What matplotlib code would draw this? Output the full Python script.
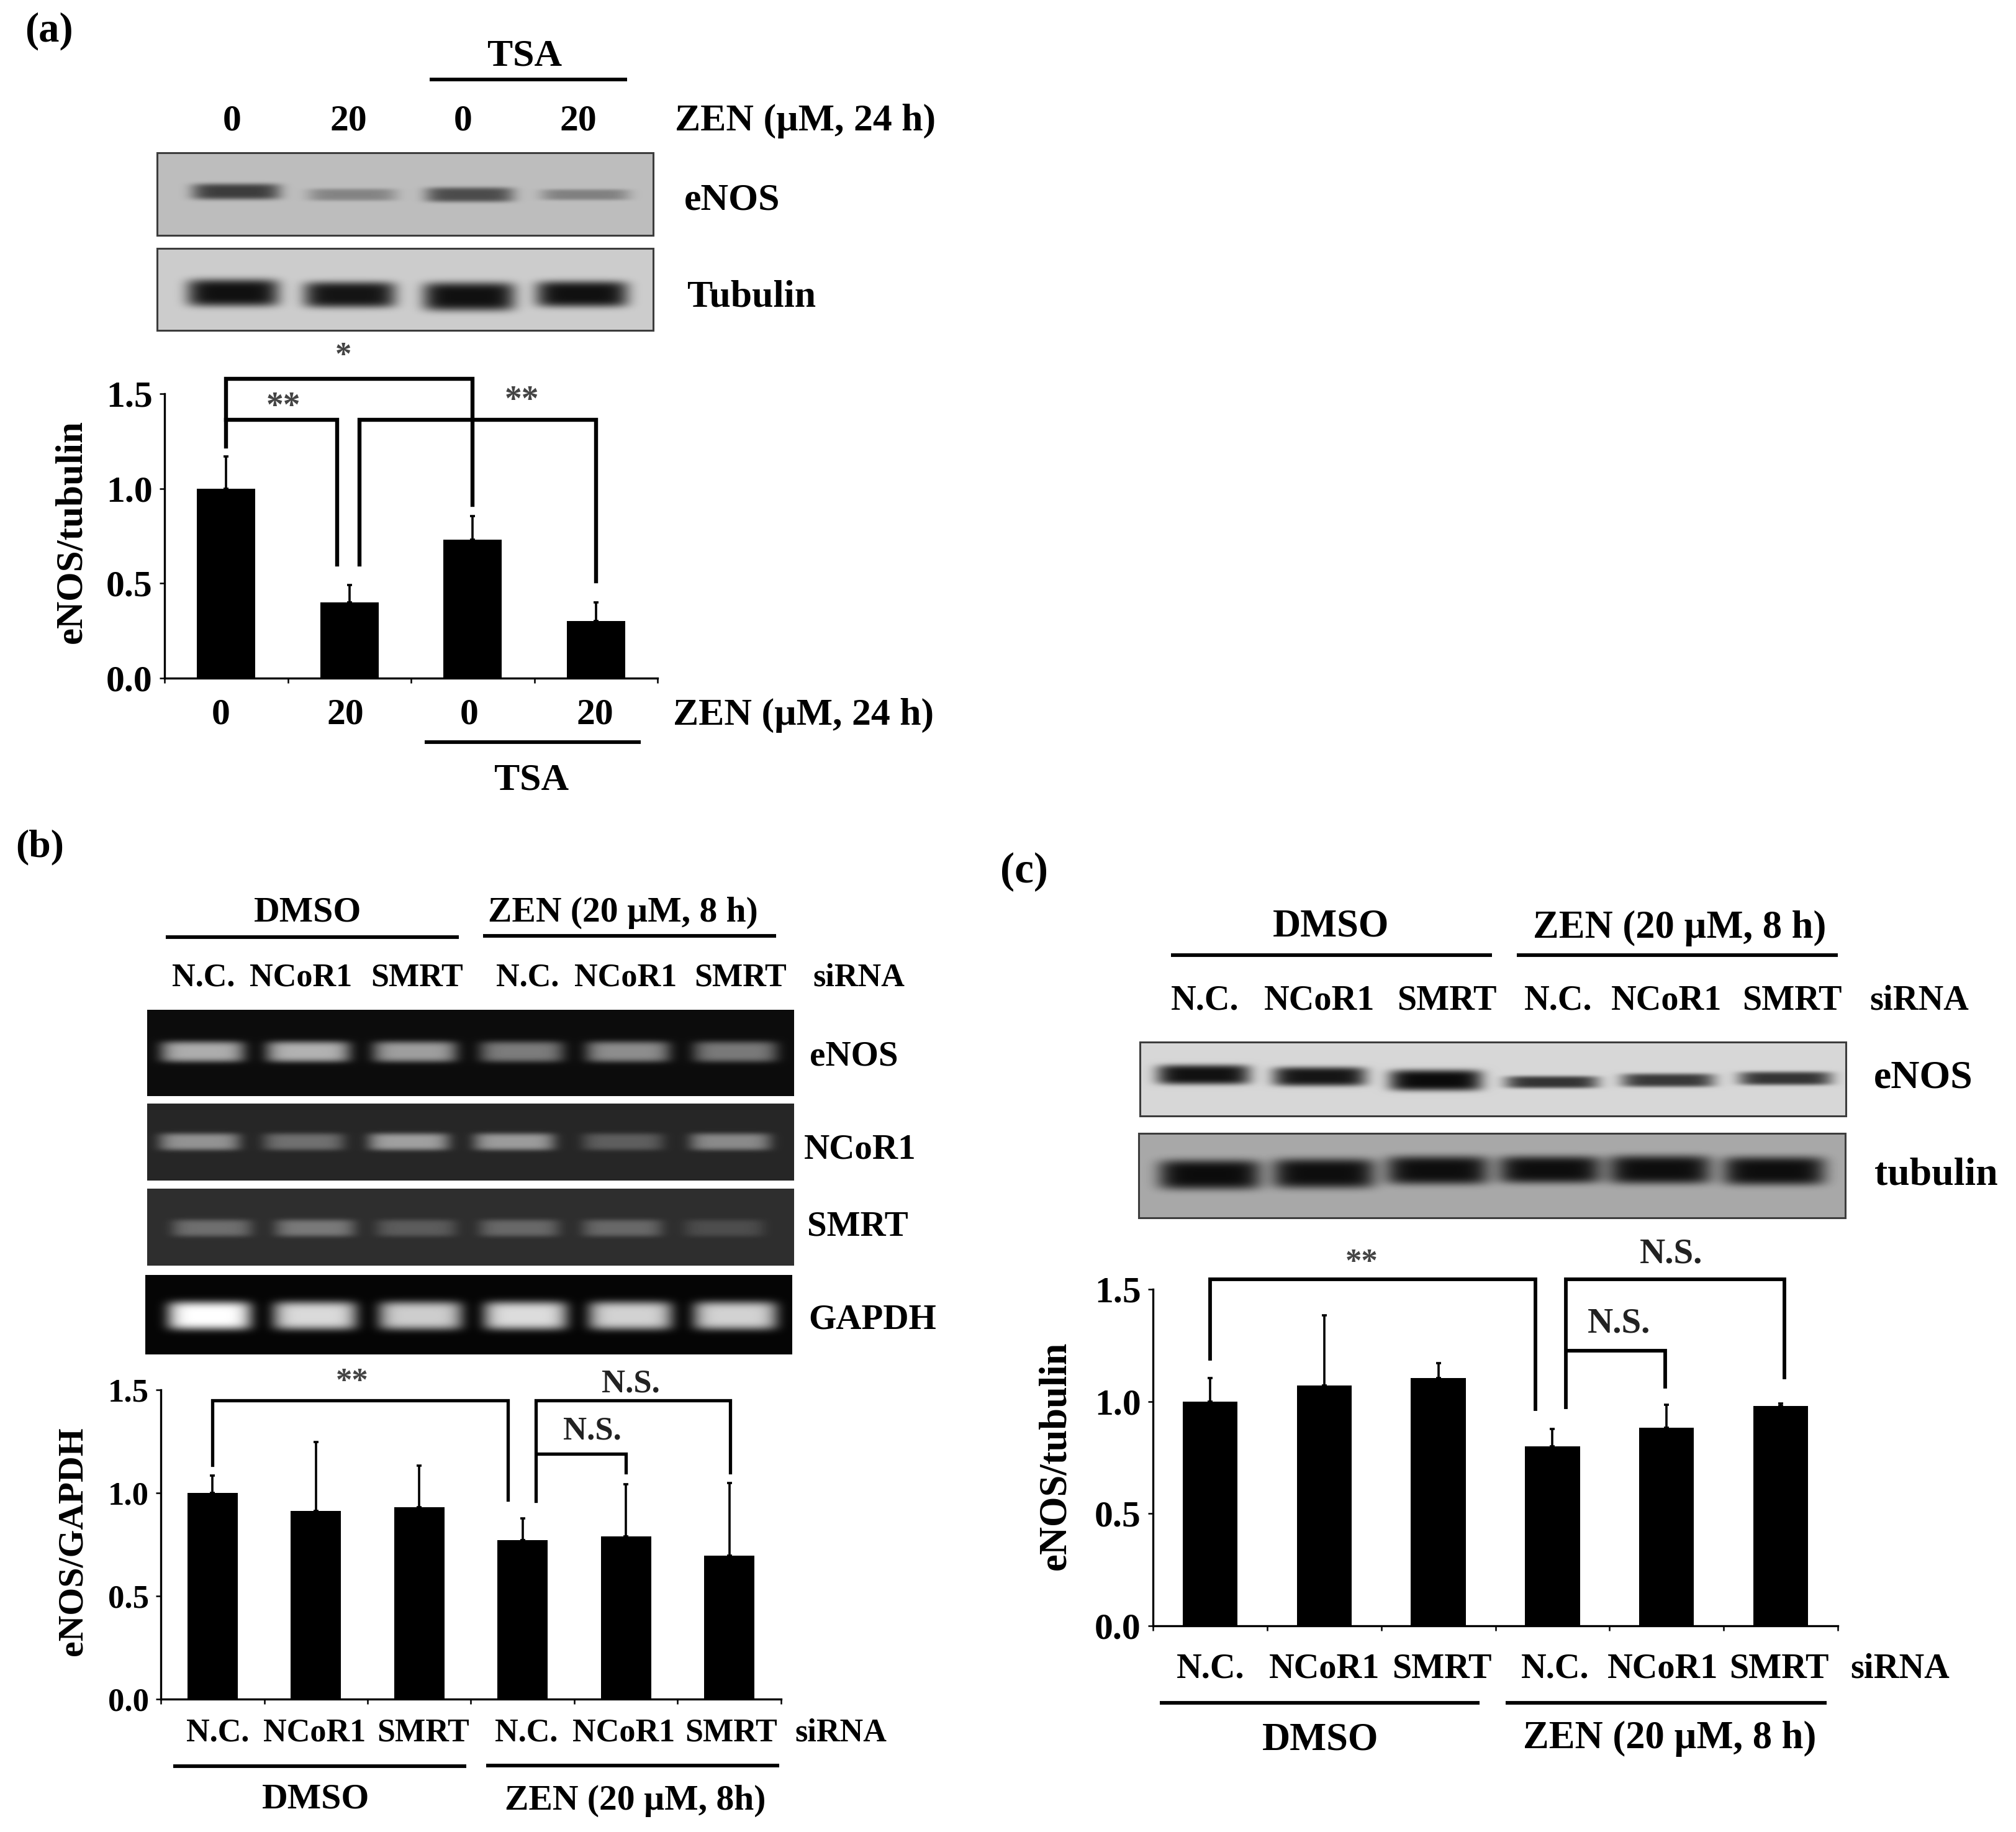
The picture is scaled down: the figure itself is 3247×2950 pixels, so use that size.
import matplotlib
matplotlib.use("Agg")
import matplotlib.pyplot as plt
import numpy as np
from matplotlib.patches import Rectangle

W, H = 3247, 2950
DPI = 100
FONT = "Liberation Serif"

# bar values
a_values = [1.0, 0.40, 0.73, 0.30]
a_err_tops = [1.17, 0.49, 0.855, 0.40]
b_values = [1.0, 0.913, 0.931, 0.77, 0.788, 0.696]
b_err_tops = [1.083, 1.246, 1.132, 0.876, 1.043, 1.048]
c_values = [1.0, 1.07, 1.103, 0.80, 0.884, 0.979]
c_err_tops = [1.103, 1.384, 1.172, 0.876, 0.984, 0.992]

y_ticks = [0.0, 0.5, 1.0, 1.5]
a_doses = ["0", "20", "0", "20"]
sirna = ["N.C.", "NCoR1", "SMRT", "N.C.", "NCoR1", "SMRT"]

# band strength per lane
a_enos = [0.68, 0.30, 0.60, 0.32]
a_tubulin = [0.92, 0.90, 0.92, 0.92]
b_enos = [0.66, 0.68, 0.60, 0.46, 0.53, 0.45]
b_ncor = [0.50, 0.34, 0.56, 0.54, 0.26, 0.46]
b_smrt = [0.31, 0.36, 0.22, 0.28, 0.28, 0.15]
b_gapdh = [1.0, 0.85, 0.80, 0.86, 0.82, 0.82]
c_enos = [0.92, 0.90, 0.95, 0.76, 0.74, 0.76]
c_tubulin = [0.93, 0.92, 0.92, 0.92, 0.92, 0.92]

fig = plt.figure(figsize=(W / DPI, H / DPI), dpi=DPI, facecolor="white")
overlay = fig.add_axes([0, 0, 1, 1], zorder=5)
overlay.set_axis_off()
overlay.patch.set_alpha(0)


def label(x, y, s, size=40, ha="center", color="black", rotation=0):
    overlay.text(x, y + 4, s, fontsize=size, ha=ha, va="center", family=FONT,
                 fontweight="bold", color=color, rotation=rotation)


def rule(x0, x1, y, lw=4.2):
    overlay.plot([x0, x1], [y, y], color="black", lw=lw, solid_capstyle="butt")


def gel(box, centers, ys, band_w, band_h, strengths, bg, dark_bands=False):
    # one blot or gel strip: soft bands on a flat ground
    x0, x1, y0, y1 = box
    xx, yy = np.meshgrid(np.arange(x0, x1), np.arange(y0, y1))
    img = np.full(xx.shape, bg, dtype=float)
    for cx, cy, h, s in zip(centers, ys, band_h, strengths):
        band = np.exp(-(((xx - cx) / (band_w / 2)) ** 6) - ((yy - cy) / (h / 2)) ** 4)
        img = img - band * s * bg if dark_bands else img + band * s * (1 - bg)
    overlay.imshow(img, cmap="gray", vmin=0, vmax=1, extent=(x0, x1, y1, y0),
                   aspect="auto", interpolation="bilinear", zorder=1)
    if dark_bands:
        overlay.add_patch(Rectangle((x0, y0), x1 - x0, y1 - y0, fill=False,
                                    ec="#3c3c3c", lw=2.2, zorder=2))


def bar_chart(box, values, err_tops, width, y_size=40, label_pad=8):
    left, right, top, bottom = box
    ax = fig.add_axes([left / W, 1 - bottom / H, (right - left) / W, (bottom - top) / H],
                      zorder=3)
    ax.patch.set_alpha(0)
    n = len(values)
    x = np.arange(n)
    ax.bar(x, values, width=width, color="black")
    lower = np.zeros(n)
    upper = np.array(err_tops) - np.array(values)
    ax.errorbar(x, values, yerr=[lower, upper], fmt="none", ecolor="black",
                elinewidth=2.6, capsize=3, capthick=2.6)
    ax.set_xlim(-0.5, n - 0.5)
    ax.set_ylim(0, 1.5)
    ax.set_xticks(np.arange(n + 1) - 0.5)
    ax.set_xticklabels([])
    ax.set_yticks(y_ticks)
    ax.set_yticklabels([f"{t:.1f}" for t in y_ticks], family=FONT,
                       fontweight="bold", fontsize=y_size)
    ax.tick_params(axis="both", direction="out", length=6, width=1.8)
    ax.tick_params(axis="y", pad=label_pad)
    for side in ["top", "right"]:
        ax.spines[side].set_visible(False)
    for side in ["left", "bottom"]:
        ax.spines[side].set_linewidth(2.4)
    return ax


def bracket(ax, x0, x1, y, y0_end, y1_end, lw=4.6):
    ax.plot([x0, x0, x1, x1], [y0_end, y, y, y1_end], color="black", lw=lw,
            clip_on=False, solid_joinstyle="miter", zorder=4)


# ---- panel a ----
label(79, 46, "(a)", 48)
label(845, 87, "TSA", 44.5)
rule(692, 1010, 128)
for x, s in zip([374, 561, 746, 931], a_doses):
    label(x, 191, s, 43)
label(1087, 191, "ZEN (µM, 24 h)", 44.5, ha="left")
gel((253, 1052, 246, 379), [380, 567, 756, 942], [308, 313, 313, 313],
    142, [26, 20, 24, 18], a_enos, 0.74, dark_bands=True)
gel((253, 1052, 400, 532), [375, 563, 755, 937], [471, 474, 477, 473],
    148, [44, 42, 46, 42], a_tubulin, 0.80, dark_bands=True)
label(1102, 319, "eNOS", 44.5, ha="left")
label(1107, 475, "Tubulin", 44.5, ha="left")
label(553, 570, "*", 38, color="#444444")
label(456, 652, "**", 40, color="#444444")
label(840, 642, "**", 40, color="#444444")

ax_a = bar_chart((265, 1059, 634, 1092), a_values, a_err_tops, 0.475, 43)
bracket(ax_a, 0, 2.0, 1.58, 1.22, 0.915)
bracket(ax_a, 0, 0.90, 1.364, 1.364, 0.60)
bracket(ax_a, 1.08, 3.0, 1.364, 0.60, 0.51)
label(116, 852, "eNOS/tubulin", 44, rotation=90)
for x, s in zip([356, 556, 756, 958], a_doses):
    label(x, 1148, s, 43)
label(1084, 1148, "ZEN (µM, 24 h)", 44.5, ha="left")
rule(684, 1032, 1195)
label(856, 1253, "TSA", 44.5)

# ---- panel b ----
label(64, 1360, "(b)", 46)
label(496, 1466, "DMSO", 41.5)
label(1003, 1466, "ZEN (20 µM, 8 h)", 41.5)
rule(267, 739, 1509)
rule(778, 1250, 1507)
for x, s in zip([328, 485, 672, 850, 1008, 1193], sirna):
    label(x, 1570, s, 37.5)
label(1383, 1570, "siRNA", 37.5)
gel((237, 1279, 1626, 1765), [326, 496, 668, 840, 1011, 1184], [1693] * 6,
    135, [34] * 6, b_enos, 0.05)
gel((237, 1279, 1777, 1901), [321, 489, 658, 828, 1003, 1176], [1838] * 6,
    130, [28] * 6, b_ncor, 0.15)
gel((237, 1279, 1914, 2038), [341, 507, 670, 836, 1002, 1166], [1977] * 6,
    128, [28] * 6, b_smrt, 0.18)
gel((234, 1276, 2053, 2181), [337, 507, 677, 846, 1015, 1184], [2118] * 6,
    135, [46] * 6, b_gapdh, 0.02)
label(1375, 1698, "eNOS", 41)
label(1385, 1848, "NCoR1", 41)
label(1381, 1971, "SMRT", 41)
label(1405, 2121, "GAPDH", 41)
label(567, 2222, "**", 38, color="#444444")
label(1016, 2225, "N.S.", 38, color="#222222")
label(954, 2301, "N.S.", 38, color="#222222")

ax_b = bar_chart((259, 1258, 2238, 2736), b_values, b_err_tops, 0.487, 38)
bracket(ax_b, 0, 2.86, 1.45, 1.135, 0.968, lw=3.8)
bracket(ax_b, 3.13, 5.01, 1.45, 0.962, 1.10, lw=3.8)
bracket(ax_b, 3.14, 4.0, 1.19, 1.19, 1.10, lw=3.8)
label(117, 2478, "eNOS/GAPDH", 41.5, rotation=90)
for x, s in zip([351, 507, 682, 848, 1005, 1178], sirna):
    label(x, 2787, s, 37.5)
label(1354, 2787, "siRNA", 37.5)
rule(279, 751, 2844)
rule(783, 1255, 2843)
label(509, 2893, "DMSO", 41.5)
label(1023, 2896, "ZEN (20 µM, 8h)", 41.5)

# ---- panel c ----
label(1650, 1400, "(c)", 50)
label(2144, 1489, "DMSO", 45)
label(2705, 1491, "ZEN (20 µM, 8 h)", 45)
rule(1886, 2403, 1538)
rule(2443, 2960, 1538)
for x, s in zip([1941, 2125, 2330, 2510, 2684, 2886], sirna):
    label(x, 1607, s, 40.5)
label(3091, 1607, "siRNA", 40.5)
gel((1836, 2973, 1678, 1797), [1938, 2125, 2312, 2499, 2686, 2875],
    [1730, 1733, 1739, 1742, 1739, 1736], 150, [32, 31, 34, 20, 22, 22],
    c_enos, 0.84, dark_bands=True)
gel((1834, 2972, 1825, 1961), [1948, 2132, 2315, 2496, 2673, 2857],
    [1891, 1889, 1884, 1883, 1883, 1885], 165, [48, 48, 46, 44, 46, 46],
    c_tubulin, 0.66, dark_bands=True)
label(3098, 1733, "eNOS", 46)
label(3118, 1889, "tubulin", 46)
label(2193, 2030, "**", 38, color="#444444")
label(2692, 2016, "N.S.", 41, color="#222222")
label(2608, 2128, "N.S.", 41, color="#222222")

ax_c = bar_chart((1857, 2960, 2076, 2618), c_values, c_err_tops, 0.48, 43)
bracket(ax_c, 0, 2.85, 1.545, 1.19, 0.966, lw=4.2)
bracket(ax_c, 3.12, 5.03, 1.545, 0.973, 1.106, lw=4.2)
bracket(ax_c, 3.13, 3.99, 1.225, 1.225, 1.066, lw=4.2)
label(1700, 2340, "eNOS/tubulin", 45, rotation=90)
for x, s in zip([1950, 2133, 2322, 2505, 2678, 2865], sirna):
    label(x, 2683, s, 40.5)
label(3060, 2683, "siRNA", 40.5)
rule(1868, 2383, 2742)
rule(2425, 2942, 2742)
label(2127, 2798, "DMSO", 45)
label(2689, 2796, "ZEN (20 µM, 8 h)", 45)

overlay.set_xlim(0, W)
overlay.set_ylim(H, 0)

fig.savefig("out.png", dpi=DPI, facecolor="white")
